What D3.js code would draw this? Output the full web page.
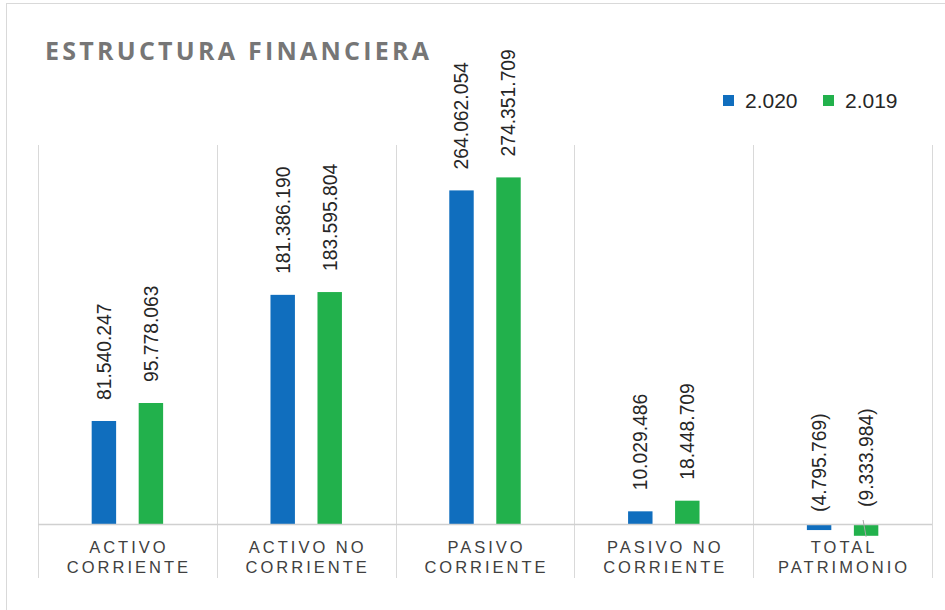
<!DOCTYPE html>
<html>
<head>
<meta charset="utf-8">
<script src="https://cdn.jsdelivr.net/npm/d3@7"></script>
<style>
  html, body { margin: 0; padding: 0; background: #fff; }
  svg { display: block; }
</style>
</head>
<body>
<svg id="chart" width="945" height="610"></svg>
<script>
const title = "ESTRUCTURA FINANCIERA";
const categories = [
  ["ACTIVO", "CORRIENTE"],
  ["ACTIVO NO", "CORRIENTE"],
  ["PASIVO", "CORRIENTE"],
  ["PASIVO NO", "CORRIENTE"],
  ["TOTAL", "PATRIMONIO"]
];
const seriesNames = ["2.020", "2.019"];
const values2020 = [81540247, 181386190, 264062054, 10029486, -4795769];
const values2019 = [95778063, 183595804, 274351709, 18448709, -9333984];
const seriesColors = ["#106EBE", "#22B14C"];

const svg = d3.select("#chart");
const W = 945, H = 610;

// chart border
svg.append("rect").attr("x", 6.5).attr("y", 3.5).attr("width", 960).attr("height", 640)
  .attr("fill", "#fff").attr("stroke", "#d9d9d9").attr("stroke-width", 1);

const plotLeft = 38, plotRight = 932, plotTop = 145, gridBottom = 578;
const catKeys = categories.map((c, i) => i);
const x0 = d3.scaleBand().domain(catKeys).range([plotLeft, plotRight]).padding(0);
const bw = x0.bandwidth();
const x1 = d3.scaleBand().domain([0, 1])
  .range([bw / 2 - 47, bw / 2 + 47]).paddingInner(0.48).paddingOuter(0.24);
const y = d3.scaleLinear().domain([0, 300000000]).range([524, plotTop]);

// vertical category gridlines
const bounds = catKeys.map(k => x0(k)).concat([plotRight]);
svg.append("g").selectAll("line").data(bounds).join("line")
  .attr("x1", d => Math.round(d) + 0.5).attr("x2", d => Math.round(d) + 0.5)
  .attr("y1", plotTop).attr("y2", gridBottom)
  .attr("stroke", "#d9d9d9").attr("stroke-width", 1);

// bars
const data = [];
catKeys.forEach(k => {
  [values2020, values2019].forEach((arr, s) => data.push({ k, s, v: arr[k] }));
});

svg.append("g").selectAll("rect").data(data).join("rect")
  .attr("x", d => x0(d.k) + x1(d.s))
  .attr("width", x1.bandwidth())
  .attr("y", d => Math.min(y(d.v), y(0)))
  .attr("height", d => Math.abs(y(d.v) - y(0)))
  .attr("fill", d => seriesColors[d.s]);

// zero line
svg.append("line").attr("x1", plotLeft).attr("x2", plotRight)
  .attr("y1", y(0) + 0.5).attr("y2", y(0) + 0.5)
  .attr("stroke", "#d0d0d0").attr("stroke-width", 1.5);

// data labels
const loc = d3.formatLocale({ decimal: ",", thousands: ".", grouping: [3], currency: ["", ""] });
const fmt = loc.format(",.0f");
const labelText = v => v < 0 ? "(" + fmt(-v) + ")" : fmt(v);

const labels = svg.append("g");
data.forEach(d => {
  const cx = x0(d.k) + x1(d.s) + x1.bandwidth() / 2;
  let yStart;
  if (d.v >= 0) yStart = y(d.v) - 21;
  else yStart = y(0) - 12 - (d.s === 1 ? 5 : 0);
  labels.append("text")
    .attr("transform", `translate(${cx},${yStart}) rotate(-90)`)
    .attr("dy", "0.36em")
    .attr("text-anchor", "start")
    .attr("font-family", "Liberation Sans, Arial, sans-serif")
    .attr("font-size", 19.3)
    .attr("fill", "#262626")
    .text(labelText(d.v));
  if (d.v < 0 && d.s === 1) {
    labels.append("line")
      .attr("x1", cx - 3).attr("y1", y(0) - 4)
      .attr("x2", cx).attr("y2", y(d.v) + 1)
      .attr("stroke", "#a6a6a6").attr("stroke-width", 1);
  }
});

// category labels
const catG = svg.append("g");
categories.forEach((lines, k) => {
  const cx = x0(k) + bw / 2;
  lines.forEach((ln, j) => {
    catG.append("text")
      .attr("x", cx + 1.5).attr("y", 553 + j * 20)
      .attr("text-anchor", "middle")
      .attr("font-family", "Liberation Sans, Arial, sans-serif")
      .attr("font-size", 16.5)
      .attr("letter-spacing", 3)
      .attr("fill", "#404040")
      .text(ln);
  });
});

// title
const t = svg.append("text")
  .attr("x", 45).attr("y", 60)
  .attr("font-family", "Open Sans, sans-serif")
  .attr("font-weight", "bold")
  .attr("font-size", 25)
  .attr("fill", "#767676")
  .text(title);
const natural = t.node().getComputedTextLength();
const targetW = 384;
t.attr("letter-spacing", (targetW - natural) / (title.length - 1));

// legend
const legend = svg.append("g");
const legendX = [723, 823];
seriesNames.forEach((name, i) => {
  legend.append("rect").attr("x", legendX[i]).attr("y", 95)
    .attr("width", 11).attr("height", 11).attr("fill", seriesColors[i]);
  legend.append("text").attr("x", legendX[i] + 22).attr("y", 107.5)
    .attr("font-family", "Liberation Sans, Arial, sans-serif")
    .attr("font-size", 21)
    .attr("fill", "#262626")
    .text(name);
});
</script>
</body>
</html>
